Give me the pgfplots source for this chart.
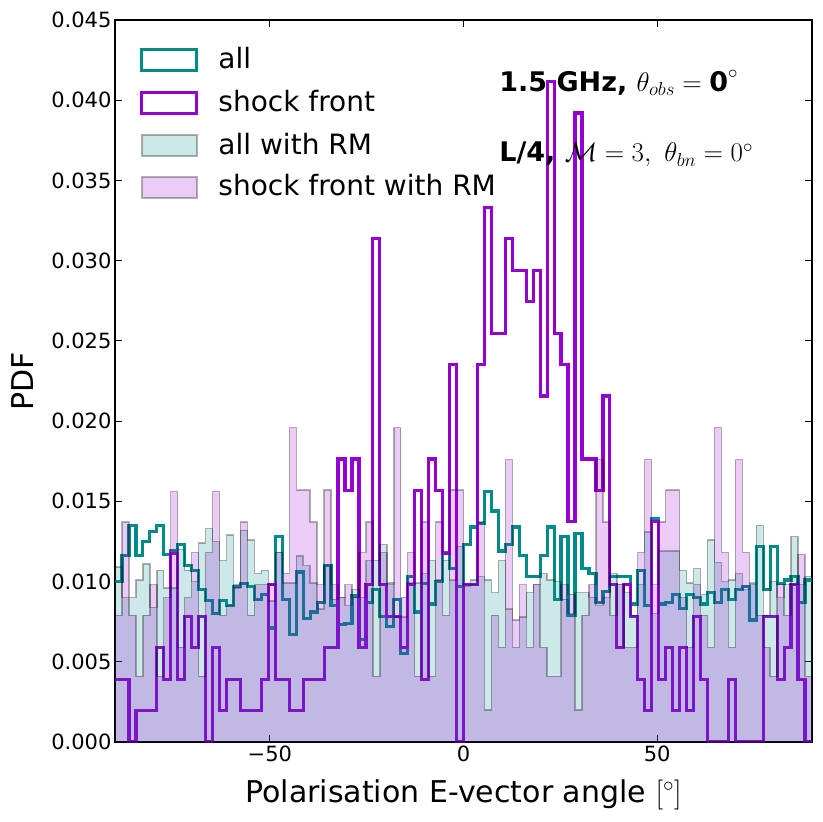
\RequirePackage{fix-cm}
\documentclass[border=0pt]{standalone}
\usepackage{fontspec}
\setmainfont{DejaVu Sans}
\usepackage{pgfplots}
\usepackage{pgfplotstable}
\pgfplotsset{compat=1.18}
\definecolor{dcyan}{RGB}{0,139,139}
\definecolor{dviolet}{RGB}{148,0,211}
\pgfplotstableread{
x all sf allrm sfrm
-90 0.0100 0.00392 0.0109 0.0079
-88.2 0.0116 0.00392 0.0090 0.0137
-86.4 0.0135 0 0.0090 0.0079
-84.6 0.0116 0.00196 0.0101 0.0041
-82.8 0.0125 0.00196 0.0111 0.0079
-81 0.0131 0.00196 0.0084 0.0098
-79.2 0.0135 0.00588 0.0107 0.0041
-77.4 0.0117 0.00392 0.0096 0.0090
-75.6 0.0119 0.01176 0.0096 0.0156
-73.8 0.0123 0.00392 0.0120 0.0059
-72 0.0110 0.00784 0.0107 0.0090
-70.2 0.0107 0.00588 0.0100 0.0118
-68.4 0.0095 0.00784 0.0124 0.0041
-66.6 0.0088 0 0.0133 0.0118
-64.8 0.0080 0.00588 0.0125 0.0156
-63 0.0088 0.00196 0.0113 0.0079
-61.2 0.0085 0.00392 0.0129 0.0085
-59.4 0.0097 0.00392 0.0096 0.0098
-57.6 0.0099 0.00196 0.0132 0.0137
-55.8 0.0097 0.00196 0.0126 0.0079
-54 0.0089 0.00196 0.0105 0.0098
-52.2 0.0092 0.00392 0.0107 0.0098
-50.4 0.0071 0.0098 0.0088 0.0098
-48.6 0.0128 0.00392 0.0118 0.0118
-46.8 0.0089 0.00392 0.0099 0.0105
-45 0.0067 0.00196 0.0099 0.0196
-43.2 0.0106 0.00196 0.0116 0.0157
-41.4 0.0077 0.00392 0.0110 0.0157
-39.6 0.0081 0.00392 0.0099 0.0137
-37.8 0.0087 0.00392 0.0083 0.0098
-36 0.0110 0.00588 0.0110 0.0157
-34.2 0.0085 0.00588 0.0089 0.0098
-32.4 0.0073 0.01764 0.0090 0.0090
-30.6 0.0074 0.01568 0.0085 0.0098
-28.8 0.0091 0.01764 0.0095 0.0090
-27 0.0064 0.00588 0.0090 0.0118
-25.2 0.0087 0.0098 0.0113 0.0137
-23.4 0.0095 0.03136 0.0113 0.0041
-21.6 0.0078 0.0098 0.0123 0.0118
-19.8 0.0072 0.00784 0.0099 0.0098
-18 0.0089 0.00784 0.0078 0.0196
-16.2 0.0055 0.00588 0.0078 0.0090
-14.4 0.0103 0.0098 0.0099 0.0118
-12.6 0.0081 0.01568 0.0099 0.0041
-10.8 0.0099 0.00392 0.0105 0.0137
-9 0.0086 0.01764 0.0113 0.0041
-7.2 0.0100 0.01568 0.0101 0.0137
-5.4 0.0118 0.01176 0.0113 0.0079
-3.6 0.0108 0.02352 0.0101 0.0157
-1.8 0.0097 0 0.0122 0.0157
0 0.0123 0.0098 0.0097 0.0098
1.8 0.0134 0.0098 0.0101 0.0098
3.6 0.0136 0.02352 0.0103 0.0137
5.4 0.0156 0.03332 0.0101 0.0020
7.2 0.0144 0.02548 0.0093 0.0079
9 0.0119 0.02548 0.0113 0.0059
10.8 0.0123 0.03136 0.0083 0.0176
12.6 0.0134 0.0294 0.0059 0.0076
14.4 0.0116 0.0294 0.0078 0.0098
16.2 0.0103 0.02744 0.0093 0.0059
18 0.0103 0.0294 0.0098 0.0098
19.8 0.0116 0.02156 0.0105 0.0059
21.6 0.0134 0.04116 0.0101 0.0041
23.4 0.0089 0.02548 0.0100 0.0041
25.2 0.0128 0.02352 0.0089 0.0098
27 0.0079 0.01372 0.0080 0.0092
28.8 0.0130 0.0392 0.0093 0.0020
30.6 0.0108 0.01764 0.0093 0.0079
32.4 0.0105 0.01764 0.0090 0.0098
34.2 0.0087 0.01568 0.0085 0.0176
36 0.0094 0.02156 0.0090 0.0137
37.8 0.0103 0.0098 0.0105 0.0079
39.6 0.0103 0.00588 0.0098 0.0098
41.4 0.0103 0.0098 0.0093 0.0059
43.2 0.0086 0.00784 0.0079 0.0059
45 0.0107 0.00392 0.0098 0.0118
46.8 0.0085 0.00196 0.0131 0.0176
48.6 0.0139 0.01372 0.0080 0.0098
50.4 0.0086 0.00392 0.0119 0.0137
52.2 0.0087 0.00588 0.0119 0.0157
54 0.0092 0.00196 0.0119 0.0157
55.8 0.0083 0.00588 0.0107 0.0090
57.6 0.0092 0.00196 0.0099 0.0059
59.4 0.0090 0.00784 0.0108 0.0098
61.2 0.0086 0.00392 0.0092 0.0079
63 0.0093 0 0.0126 0.0059
64.8 0.0087 0 0.0112 0.0196
66.6 0.0095 0 0.0100 0.0118
68.4 0.0089 0.00392 0.0101 0.0059
70.2 0.0095 0 0.0105 0.0176
72 0.0097 0 0.0095 0.0118
73.8 0.0076 0 0.0099 0.0098
75.6 0.0122 0 0.0135 0.0079
77.4 0.0095 0.00784 0.0079 0.0059
79.2 0.0122 0.00784 0.0100 0.0041
81 0.0099 0.00392 0.0090 0.0098
82.8 0.0101 0.00588 0.0098 0.0079
84.6 0.0103 0.0098 0.0128 0.0098
86.4 0.0087 0.00392 0.0098 0.0117
88.2 0.0101 0 0.0103 0.0041
90 0.0101 0 0.0103 0.0041
}\hist

\begin{document}
\begin{tikzpicture}
\path[use as bounding box] (-115pt,-80pt) rectangle (707pt,742pt);
\begin{axis}[
  at={(0pt,0pt)}, anchor=south west,
  scale only axis, width=697pt, height=722pt,
  xmin=-90, xmax=90, ymin=0, ymax=0.045,
  xtick={-50,0,50}, xticklabels={−50,0,50},
  ytick={0,0.005,0.01,0.015,0.02,0.025,0.03,0.035,0.04,0.045},
  yticklabels={0.000,0.005,0.010,0.015,0.020,0.025,0.030,0.035,0.040,0.045},
  scaled y ticks=false,
  tick align=inside, major tick length=7pt,
  tick style={black, line width=1pt},
  axis line style={line width=1.2pt},
  tick label style={font=\fontsize{21}{21}\selectfont},
  label style={font=\fontsize{30}{30}\selectfont},
  xlabel={Polarisation E-vector angle $[^\circ]$},
  ylabel={PDF},
  xlabel style={at={(axis description cs:0.5,0)}, anchor=north, yshift=-34pt},
  ylabel style={at={(axis description cs:-0.1327,0.5)}, anchor=center},
  legend cell align=left,
  legend image code/.code={\draw[#1] (0pt,-12pt) rectangle (55pt,9pt);},
  legend style={at={(axis description cs:0.036,0.9626)}, anchor=north west,
    draw=none, fill=none, inner sep=0pt, row sep=17.8pt,
    font=\fontsize{28}{28}\selectfont,
    nodes={inner sep=0pt},
    /tikz/every odd column/.append style={column sep=20pt}},
]
\addplot[const plot, draw=dcyan, line width=3.2pt, line join=miter] table[x=x,y=all]{\hist};
\addlegendentry{all}
\addplot[const plot, draw=dviolet, line width=3.2pt, line join=miter] table[x=x,y=sf]{\hist};
\addlegendentry{shock front}
\addplot[const plot, fill=dcyan, fill opacity=0.2, draw=black, draw opacity=0.3, line width=1.4pt] table[x=x,y=allrm]{\hist} \closedcycle;
\addlegendentry{all with RM}
\addplot[const plot, fill=dviolet, fill opacity=0.2, draw=black, draw opacity=0.3, line width=1.4pt] table[x=x,y=sfrm]{\hist} \closedcycle;
\addlegendentry{shock front with RM}
\node[anchor=west, inner sep=0pt, font=\fontsize{27}{27}\selectfont] at (axis cs:9.2,0.0411) {\bfseries 1.5 GHz, \mdseries$\theta_{obs}=\mbox{\bfseries 0}^\circ$};
\node[anchor=west, inner sep=0pt, font=\fontsize{27}{27}\selectfont] at (axis cs:9.2,0.0366) {\bfseries L/4, \mdseries$\mathcal{M}=3,\ \theta_{bn}=0^\circ$};
\end{axis}
\end{tikzpicture}
\end{document}
